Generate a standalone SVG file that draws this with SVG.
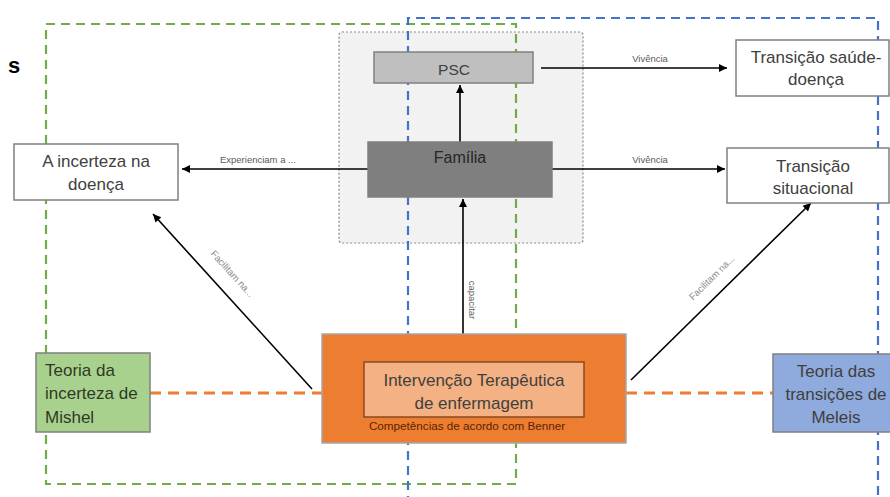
<svg xmlns="http://www.w3.org/2000/svg" width="890" height="497" viewBox="0 0 890 497">
<defs>
<marker id="ah" viewBox="0 0 10 10" refX="10" refY="5" markerWidth="10" markerHeight="8" markerUnits="userSpaceOnUse" orient="auto">
<path d="M0,0 L10,5 L0,10 z" fill="#000"/>
</marker>
<style>
.t{font-family:"Liberation Sans",Arial,sans-serif;fill:#404040}
.n{font-size:17px}
.s{font-size:9.5px;fill:#595959}
.f{font-size:9.5px;fill:#8a8a8a}
.box{stroke:#808080;stroke-width:1.5}
.c{stroke:#000;stroke-width:1.6;fill:none}
.mid{text-anchor:middle}
</style>
</defs>
<rect width="890" height="497" fill="#fff"/>
<text x="8" y="73" style="font-family:'Liberation Sans',Arial,sans-serif;font-size:22px;font-weight:bold;fill:#000">s</text>
<g id="family-area">
<rect x="339" y="32" width="244" height="211" rx="3" fill="#f2f2f2" stroke="#8a8a8a" stroke-width="1.2" stroke-dasharray="2 2"/>
</g>
<g id="frames">
<rect x="46" y="24" width="470" height="460" fill="none" stroke="#70ad47" stroke-width="2.2" stroke-dasharray="9 6"/>
<path d="M408,505 V18 H878 V505" fill="none" stroke="#4472c4" stroke-width="2.2" stroke-dasharray="9 6"/>
</g>
<g id="connectors">
<path d="M150,393 H322 M626,393 H773" stroke="#ed7d31" stroke-width="3" stroke-dasharray="11 7" fill="none"/>
<line class="c" x1="460" y1="142" x2="460" y2="85" marker-end="url(#ah)"/>
<line class="c" x1="463" y1="334" x2="463" y2="199" marker-end="url(#ah)"/>
<line class="c" x1="368" y1="169" x2="182" y2="169" marker-end="url(#ah)"/>
<line class="c" x1="541" y1="68" x2="727" y2="68" marker-end="url(#ah)"/>
<line class="c" x1="552" y1="169" x2="725" y2="169" marker-end="url(#ah)"/>
<line class="c" x1="312" y1="389" x2="153" y2="214" marker-end="url(#ah)"/>
<line class="c" x1="631" y1="380" x2="811" y2="203" marker-end="url(#ah)"/>
<text class="t s mid" x="258" y="163">Experienciam a ...</text>
<text class="t s mid" x="650" y="62">Vivência</text>
<text class="t s mid" x="650" y="163">Vivência</text>
<text class="t s mid" transform="translate(469,300) rotate(90)">capacitar</text>
<text class="t f mid" transform="translate(230,276) rotate(47.8)">Facilitam na...</text>
<text class="t f mid" transform="translate(714,280) rotate(-44.5)">Facilitam na...</text>
</g>
<g id="psc">
<rect class="box" x="374" y="52" width="159" height="31" fill="#bfbfbf"/>
<text class="t mid" x="454" y="75" style="font-size:15.5px">PSC</text>
</g>
<g id="familia">
<rect class="box" x="368" y="142" width="184" height="55" fill="#7f7f7f"/>
<text class="t mid" x="460" y="163" style="font-size:16px;fill:#262626">Família</text>
</g>
<g id="incerteza">
<rect class="box" x="14" y="144" width="164" height="56" fill="#fff"/>
<text class="t n mid" x="96" y="167">A incerteza na</text>
<text class="t n mid" x="96" y="190">doença</text>
</g>
<g id="saude-doenca">
<rect class="box" x="736" y="40" width="153" height="56" fill="#fff"/>
<text class="t n mid" x="816" y="63">Transição saúde-</text>
<text class="t n mid" x="816" y="85">doença</text>
</g>
<g id="situacional">
<rect class="box" x="727" y="148" width="162" height="55" fill="#fff"/>
<text class="t n mid" x="813" y="172">Transição</text>
<text class="t n mid" x="813" y="194">situacional</text>
</g>
<g id="intervencao">
<rect x="322" y="334" width="304" height="109" fill="#ed7d31" stroke="#a6a6a6" stroke-width="1.5"/>
<rect x="364" y="362" width="220" height="55" fill="#f4b183" stroke="#8a4a1c" stroke-width="1.5"/>
<text class="t n mid" x="474" y="386">Intervenção Terapêutica</text>
<text class="t n mid" x="474" y="409">de enfermagem</text>
<text class="t mid" x="467" y="430" style="font-size:11.7px;fill:#5a2500">Competências de acordo com Benner</text>
</g>
<g id="mishel">
<rect class="box" x="36" y="353" width="114" height="79" fill="#a9d18e"/>
<text class="t n" x="45" y="376" style="fill:#2e3a26">Teoria da</text>
<text class="t n" x="45" y="399" style="fill:#2e3a26">incerteza de</text>
<text class="t n" x="45" y="423" style="fill:#2e3a26">Mishel</text>
</g>
<g id="meleis">
<rect class="box" x="773" y="354" width="118" height="78" fill="#8faadc"/>
<text class="t n mid" x="836" y="377">Teoria das</text>
<text class="t n mid" x="836" y="400">transições de</text>
<text class="t n mid" x="836" y="423">Meleis</text>
</g>
</svg>
